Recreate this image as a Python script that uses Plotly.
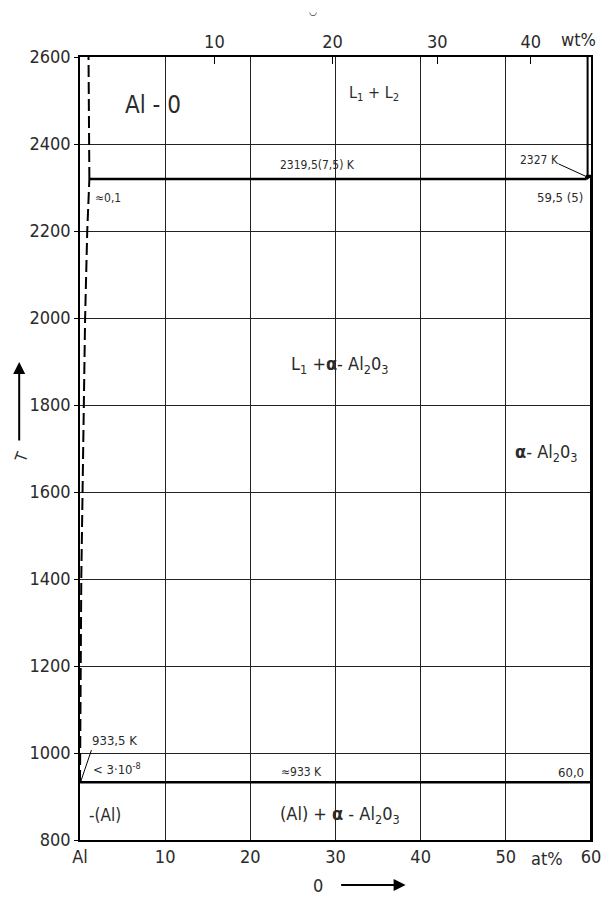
import plotly.graph_objects as go

# ---- data ----
x_ticks = [0, 10, 20, 30, 40, 50, 60]
x_ticklabels = ["Al", "10", "20", "30", "40", "50", "60"]
y_ticks = [800, 1000, 1200, 1400, 1600, 1800, 2000, 2200, 2400, 2600]
wt_labels = ["10", "20", "30", "40"]
wt_values = [10, 20, 30, 40]

# liquidus L1 (Al-rich side), dashed
liq_x = [0.0, 0.05, 0.15, 0.3, 0.45, 0.6, 0.85, 1.1]
liq_T = [933.5, 1200, 1400, 1600, 1800, 2000, 2200, 2319.5]
# L1 / L1+L2 boundary above monotectic
mis_x = [1.1, 1.0]
mis_T = [2319.5, 2600]
# monotectic
mono_x = [1.1, 59.5]
mono_T = [2319.5, 2319.5]
# eutectic
eut_x = [0, 60]
eut_T = [933, 933]
# L2 boundary near Al2O3
l2_x = [59.5, 60, 59.6, 59.6]
l2_T = [2319.5, 2327, 2327, 2600]
# Al2O3 line
ox_x = [60, 60]
ox_T = [800, 2327]

# wt% -> at% for top axis
MA, MO = 26.98, 16.0
def wt_to_at(w):
    o = w / MO
    a = (100 - w) / MA
    return 100 * o / (o + a)
wt_pos = [wt_to_at(w) for w in wt_values]

FONT = "DejaVu Sans Condensed, Liberation Sans Narrow, DejaVu Sans"
TXT = "#2b2b2b"

fig = go.Figure()
fig.add_trace(go.Scatter(x=liq_x, y=liq_T, mode="lines",
                         line=dict(color="black", width=2, dash="12px,5px"), hoverinfo="skip"))
fig.add_trace(go.Scatter(x=mis_x, y=mis_T, mode="lines",
                         line=dict(color="black", width=2, dash="12px,5px"), hoverinfo="skip"))
fig.add_trace(go.Scatter(x=mono_x, y=mono_T, mode="lines",
                         line=dict(color="black", width=2.5), hoverinfo="skip"))
fig.add_trace(go.Scatter(x=eut_x, y=eut_T, mode="lines",
                         line=dict(color="black", width=2.5), hoverinfo="skip"))
fig.add_trace(go.Scatter(x=l2_x, y=l2_T, mode="lines",
                         line=dict(color="black", width=2), hoverinfo="skip"))
fig.add_trace(go.Scatter(x=ox_x, y=ox_T, mode="lines",
                         line=dict(color="black", width=2), hoverinfo="skip"))
# invisible trace on top axis to activate it
fig.add_trace(go.Scatter(x=[0, 60], y=[800, 800], xaxis="x2", mode="markers",
                         marker=dict(opacity=0), hoverinfo="skip"))

fig.update_layout(
    width=611, height=899,
    margin=dict(l=80, r=10, t=57, b=59),
    paper_bgcolor="white", plot_bgcolor="white",
    showlegend=False,
    font=dict(family=FONT, color=TXT, size=17),
    xaxis=dict(range=[0, 60], tickvals=x_ticks, ticktext=x_ticklabels,
               showgrid=True, gridcolor="#222", gridwidth=1,
               showline=True, linecolor="black", linewidth=1.5, mirror=False,
               ticks="", zeroline=False, tickfont=dict(size=18, color=TXT)),
    xaxis2=dict(range=[0, 60], overlaying="x", side="top", tickvals=wt_pos,
                ticktext=wt_labels, ticks="inside", ticklen=7, tickcolor="black",
                showgrid=False, showline=True, linecolor="black", linewidth=1.5,
                zeroline=False, tickfont=dict(size=18, color=TXT)),
    yaxis=dict(range=[800, 2600], tickvals=y_ticks,
               showgrid=True, gridcolor="#222", gridwidth=1,
               showline=True, linecolor="black", linewidth=1.5, mirror=True,
               ticks="outside", ticklen=4, tickcolor="black", zeroline=False,
               tickfont=dict(size=18, color=TXT)),
)

def ann(x, y, text, size=15, xref="x", yref="y", **kw):
    d = dict(x=x, y=y, text=text, showarrow=False, xref=xref, yref=yref,
             xanchor="center", yanchor="middle",
             font=dict(size=size, color=TXT, family=FONT))
    d.update(kw)
    fig.add_annotation(**d)

# axis text
ann(-3.7, 2495, "K", size=16)
ann((556 - 80) / 521, -(858 - 840) / 783, "at%", size=18, xref="paper", yref="paper")
ann((588 - 80) / 521, 1 + (57 - 40) / 783, "wt%", size=18, xref="paper", yref="paper")
ann((318 - 80) / 521, 1 + (57 - 12) / 783, "◡", size=10, xref="paper", yref="paper")

# O arrow at bottom
fig.add_annotation(x=(412 - 80) / 521, y=-(885 - 840) / 783, ax=-66, ay=0,
                   xref="paper", yref="paper",
                   showarrow=True, arrowhead=2, arrowsize=1.2, arrowwidth=2, arrowcolor="black",
                   text="")
ann((323 - 80) / 521, -(885 - 840) / 783, "0", size=18, xref="paper", yref="paper")
# T arrow at left
fig.add_annotation(x=-(80 - 18) / 521, y=(840 - 362) / 783, ax=0, ay=80,
                   xref="paper", yref="paper",
                   showarrow=True, arrowhead=2, arrowsize=1.2, arrowwidth=2, arrowcolor="black",
                   text="")
ann(-(80 - 20) / 521, (840 - 457) / 783, "T", size=16, xref="paper", yref="paper",
    textangle=-70)

# region labels
ann(8.6, 2490, "Al - 0", size=24)
ann(34.5, 2515, "L<sub>1</sub> + L<sub>2</sub>", size=16)
ann(27.9, 2352, "2319,5(7,5) K", size=12)
ann(53.9, 2363, "2327 K", size=12)
fig.add_annotation(x=59.8, y=2322, ax=56.0, ay=2356, axref="x", ayref="y",
                   showarrow=True, arrowhead=2, arrowsize=0.8, arrowwidth=1,
                   arrowcolor="black", text="")
ann(3.3, 2276, "≈0,1", size=12)
ann(56.4, 2276, "59,5 (5)", size=13)
ann(30.5, 1892, "L<sub>1</sub> +<b>α</b>- Al<sub>2</sub>0<sub>3</sub>", size=18)
ann(54.7, 1690, "<b>α</b>- Al<sub>2</sub>0<sub>3</sub>", size=18)
ann(4.0, 1028, "933,5 K", size=13)
fig.add_annotation(x=0.1, y=935, ax=1.4, ay=1010, axref="x", ayref="y",
                   showarrow=True, arrowhead=0, arrowwidth=1, arrowcolor="black", text="")
ann(4.4, 964, "< 3·10<sup>-8</sup>", size=13)
ann(26.0, 956, "≈933 K", size=12)
ann(57.6, 956, "60,0", size=13)
ann(2.9, 857, "-(Al)", size=17)
ann(30.5, 857, "(Al) + <b>α</b> - Al<sub>2</sub>0<sub>3</sub>", size=18)

fig.write_html("out.html")
